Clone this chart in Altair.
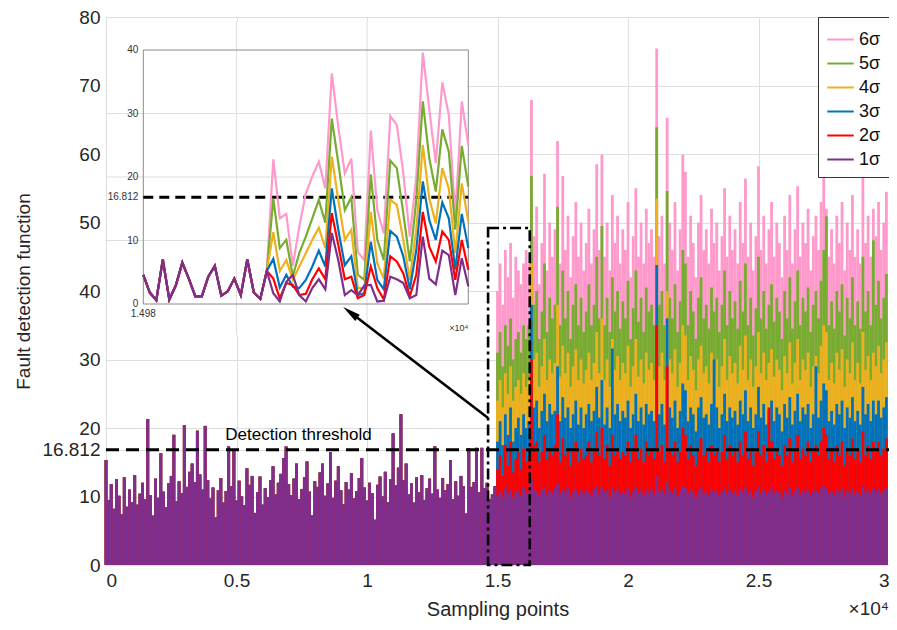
import altair as alt
import pandas as pd

FONT = "Liberation Sans"
SERIES = ["6σ", "5σ", "4σ", "3σ", "2σ", "1σ"]
COLORS = ["#FF99CC", "#77AC30", "#EDB120", "#0072BD", "#FF0000", "#7E2F8E"]

# ---------------- main chart data (one value per 100 samples) ----------------
STEP = 100
FAULT_START = 15000
THRESHOLD = 16.812

# before the fault all six series are identical
pre_fault = [
    15.3, 9.5, 11.8, 8.2, 12.5, 10.1, 7.4, 12.8, 8.5, 11.0,
    9.2, 13.1, 8.8, 10.4, 12.0, 9.6, 21.3, 10.2, 7.2, 12.6,
    9.8, 16.3, 10.7, 8.4, 11.9, 13.0, 19.0, 9.3, 12.2, 10.5,
    20.4, 11.4, 13.6, 14.8, 12.1, 19.6, 13.2, 11.0, 20.3, 12.4,
    9.7, 11.3, 7.0, 10.9, 12.7, 9.1, 10.8, 17.3, 11.5, 16.8,
    9.4, 12.3, 10.0, 8.7, 14.1, 11.7, 13.0, 7.6, 10.6, 12.9,
    8.8, 11.2, 9.9, 12.4, 14.4, 10.3, 12.0, 13.3, 15.6, 17.3,
    11.8, 10.2, 12.6, 14.8, 9.6, 11.1, 12.8, 15.1, 10.7, 7.3,
    12.2, 11.4, 13.5, 14.8, 10.1, 11.9, 16.5, 9.8, 12.3, 14.4,
    10.9, 8.9, 12.1, 11.0, 13.4, 9.7, 10.8, 12.7, 15.6, 11.3,
    9.4, 12.0, 10.5, 6.6, 11.7, 12.9, 10.0, 13.6, 9.2, 12.5,
    19.2, 11.6, 14.2, 22.0, 12.4, 14.8, 10.3, 11.9, 9.1, 12.8,
    10.6, 13.1, 9.5, 11.2, 12.6, 10.4, 17.3, 11.0, 9.8, 12.7,
    10.9, 11.8, 15.3, 9.6, 12.2, 10.1, 13.0, 11.5, 7.5, 17.0,
    11.4, 12.1, 17.1, 10.6, 17.1, 11.2, 12.0, 9.6, 10.3, 11.5,
]

post_6s = [
    40, 44, 38, 46, 42, 47, 39, 45, 43, 41,
    44, 46, 44, 67.9, 48, 52.3, 41, 47, 57.1, 43,
    50, 45, 49, 61.9, 44, 56.8, 46, 51, 42, 48,
    53, 45, 50, 43, 47, 52, 44, 49, 58.5, 46,
    59.9, 45, 50, 43, 54, 47, 51, 44, 49, 46,
    53, 42, 48, 55, 45, 50, 44, 52, 47, 49,
    45, 75.4, 48, 51, 44, 65.3, 50, 46, 53, 43,
    49, 59.9, 57.4, 45, 51, 47, 42, 50, 54, 46,
    49, 44, 52, 47, 50, 43, 48, 55, 45, 51,
    46, 49, 44, 53, 47, 56.4, 45, 50, 43, 48,
    58.2, 46, 51, 44, 49, 53, 45, 50, 47, 42,
    51, 46, 54, 44, 49, 55.3, 45, 50, 47, 52,
    43, 48, 51, 46, 53, 58.6, 52, 45, 49, 44,
    51, 47, 53, 43, 50, 46, 54, 45, 49, 44,
    57.7, 47, 51, 45, 52, 48, 53, 46, 50, 54.5,
]
post_5s = [
    31, 34, 29, 35, 32, 36, 30, 33, 34, 31,
    35, 33, 35, 56.8, 38, 40, 33, 37, 44, 34,
    39, 36, 38, 52.3, 35, 43, 36, 40, 33, 38,
    41, 35, 39, 34, 37, 41, 35, 38, 45, 36,
    49.5, 35, 39, 34, 42, 37, 40, 34.5, 38.5, 36,
    41.5, 33, 37.5, 43, 35.5, 39, 34, 40.5, 37, 38,
    35, 63.9, 38, 40, 35, 54.6, 39, 36, 41, 34,
    38.5, 46, 44, 35, 40, 37, 33, 39, 42, 36,
    38, 34.5, 40.5, 37, 39, 34, 38, 43, 35, 40,
    36, 38.5, 34.5, 41.5, 37, 44, 35, 39, 33.5, 37.5,
    45, 36, 40, 34.5, 38, 41, 35.5, 39, 37, 33,
    40, 36, 42, 34.5, 38.5, 43, 35, 39, 37, 40.5,
    34, 38, 40, 36, 41.5, 46, 50.9, 35, 38.5, 34.5,
    40, 37, 41, 33.5, 39, 36, 42, 35, 38.5, 34.5,
    45, 37, 40, 35, 47.4, 38, 41.5, 36, 39, 42.5,
]
post_4s = [
    24, 27, 23, 28, 25, 29, 24, 26, 27, 25,
    28, 26, 27, 44, 30, 31, 26, 29, 33, 27,
    30, 28, 29.5, 38, 27.5, 32, 28, 31, 26, 29,
    31.5, 27, 30, 26.5, 28.5, 31, 27, 29.5, 34, 28,
    36, 27, 30, 26, 33, 28.5, 30.5, 27, 29.5, 28,
    32, 26, 29, 33, 27.5, 30, 26.5, 31, 28.5, 29.5,
    27, 53.5, 29, 31, 27, 40, 30, 28, 31.5, 26,
    29.5, 35, 33.5, 27, 30.5, 28.5, 25.5, 30, 32, 28,
    29, 26.5, 31, 28.5, 30, 26, 29, 33, 27, 30.5,
    28, 29.5, 26.5, 32, 28.5, 33.5, 27, 30, 26, 29,
    34, 28, 31, 27, 29.5, 31.5, 27.5, 30, 28.5, 25.5,
    30.5, 28, 32.5, 26.5, 29.5, 33, 27, 30, 28.5, 31,
    26, 29, 30.5, 28, 32, 35, 34, 27, 29.5, 26.5,
    31, 28.5, 31.5, 26, 30, 28, 32.5, 27, 29.5, 26.5,
    34, 28.5, 30.5, 27, 31, 29, 32, 28, 30, 32.5,
]
post_3s = [
    18, 21, 17.5, 22, 19, 23, 18, 20, 21.5, 19,
    22, 20, 21, 38, 23, 24, 20, 22.5, 25, 21,
    23.5, 22, 22.5, 29, 21, 24.5, 21.5, 23, 20, 22,
    24, 20.5, 23, 20, 22, 23.5, 21, 22.5, 26, 21.5,
    27, 20.5, 23, 20, 31.6, 22, 23.5, 21, 22.5, 21.5,
    24, 20, 22, 25, 21, 23, 20.5, 23.5, 22, 22.5,
    21, 43.8, 22, 23.5, 20.5, 36, 23, 21.5, 24, 20,
    22.5, 26.5, 25.5, 21, 23, 22, 19.5, 23, 24.5, 21.5,
    22, 20.5, 23.5, 30, 23, 20, 22, 25, 21, 23,
    21.5, 22.5, 20.5, 24, 22, 25.5, 21, 23, 20, 22,
    26, 21.5, 23.5, 20.5, 22.5, 24, 21, 23, 22, 19.5,
    23.5, 21.5, 24.5, 20.5, 22.5, 25, 21, 23, 22, 23.5,
    20, 22, 29, 21.5, 24, 26.5, 25.5, 21, 22.5, 20.5,
    23.5, 22, 24, 20, 23, 21.5, 24.5, 21, 22.5, 20.5,
    26, 22, 23.5, 21, 24, 22, 24, 21.5, 23, 24.5,
]
post_2s = [
    14, 16, 13, 17.5, 14.5, 18, 13.5, 15.5, 16.5, 14,
    17, 15, 16, 30, 17.5, 18, 15, 16.5, 19, 15.5,
    17, 16, 17.5, 22, 15, 18.5, 16, 17, 14.5, 16.5,
    18, 15, 17, 15.5, 16, 18, 15, 17, 19.5, 16,
    20, 15.5, 17.5, 14.5, 19, 16, 17, 15.5, 16.5, 16,
    18, 15, 16.5, 19, 15.5, 17, 15, 18, 16, 17,
    15.5, 35, 16.5, 17.5, 15, 29, 17, 16, 18, 15,
    16.5, 20, 19, 15.5, 17.5, 16, 14.5, 17, 18.5, 16,
    16.5, 15, 17.5, 16, 17, 15, 16.5, 19, 15.5, 17.5,
    16, 17, 15, 18, 16, 19.5, 15.5, 17, 14.5, 16.5,
    19.5, 16, 17.5, 15, 23, 18, 15.5, 17, 16, 14.5,
    17.5, 16, 18.5, 15, 17, 19, 15.5, 17, 16, 18,
    15, 16.5, 17.5, 16, 18, 20, 19, 15.5, 17, 15,
    17.5, 16, 18, 14.5, 17, 16, 18.5, 15.5, 17, 15,
    19.5, 16, 17.5, 15.5, 18, 16.5, 18, 16, 17, 18.5,
]
post_1s = [
    10.2, 10.8, 9.8, 11.2, 10.4, 11.0, 9.9, 10.6, 10.9, 10.1,
    11.3, 10.5, 10.6, 12.5, 11.0, 10.8, 10.2, 11.1, 11.4, 10.3,
    10.9, 10.5, 11.2, 11.8, 10.4, 11.0, 10.7, 11.3, 9.9, 10.8,
    11.1, 10.2, 10.9, 10.5, 11.0, 10.6, 10.1, 11.2, 11.5, 10.4,
    11.3, 10.7, 10.9, 10.0, 11.4, 10.6, 11.0, 10.3, 10.8, 10.5,
    11.2, 9.9, 10.7, 11.3, 10.4, 11.0, 10.2, 10.9, 10.6, 11.1,
    10.3, 13.0, 10.8, 11.0, 10.4, 12.2, 10.9, 10.5, 11.2, 10.1,
    10.7, 11.6, 11.3, 10.4, 11.0, 10.6, 9.8, 10.9, 11.3, 10.5,
    10.8, 10.2, 11.1, 10.6, 10.9, 10.1, 10.7, 11.4, 10.4, 11.0,
    10.5, 10.8, 10.2, 11.2, 10.6, 11.4, 10.3, 10.9, 9.9, 10.7,
    11.5, 10.5, 11.1, 10.3, 10.8, 11.2, 10.4, 10.9, 10.6, 9.8,
    11.0, 10.5, 11.3, 10.2, 10.8, 11.4, 10.3, 10.9, 10.6, 11.1,
    10.1, 10.7, 11.0, 10.5, 11.2, 11.5, 11.3, 10.4, 10.8, 10.2,
    11.0, 10.6, 11.2, 10.0, 10.9, 10.5, 11.3, 10.3, 10.8, 10.2,
    11.5, 10.6, 11.0, 10.4, 11.2, 10.7, 11.2, 10.5, 10.9, 11.3,
]
POST = [post_6s, post_5s, post_4s, post_3s, post_2s, post_1s]

# ---------------- inset data (samples 14980 .. 15030) ----------------
INSET_X0 = 14980
INSET_X1 = 15030
inset_shared = [4.6, 1.8, 0.6, 7.0, 0.7, 2.9, 6.5, 4.0, 1.2, 1.2,
                4.3, 6.0, 1.3, 2.0, 4.0, 1.4, 7.0, 1.8, 0.8, 5.2]
inset_6s = [22.8, 13.5, 14.2, 6.0, 12.2, 17.4, 20.1, 22.4, 18.2, 36.3, 27.9,
            20.6, 22.9, 8.2, 6.9, 27.3, 14.8, 11.1, 29.6, 28.2, 20.6,
            10.6, 20.1, 39.6, 30.6, 22.2, 34.9, 29.8, 13.8, 31.9, 25.0]
inset_5s = [16.6, 8.8, 10.1, 4.4, 8.0, 10.6, 13.5, 16.4, 12.8, 29.2, 22.2,
            14.8, 16.8, 4.6, 3.8, 20.4, 10.1, 6.9, 22.6, 21.4, 14.3,
            6.7, 16.4, 31.9, 22.9, 17.7, 27.5, 24.0, 11.7, 24.9, 18.5]
inset_4s = [11.3, 5.2, 6.9, 3.8, 5.9, 8.0, 10.1, 12.0, 8.8, 23.2, 16.4,
            10.1, 11.7, 2.5, 2.5, 14.5, 6.4, 4.0, 16.4, 15.6, 10.1,
            3.8, 11.9, 25.0, 16.6, 12.7, 21.4, 18.2, 8.0, 19.0, 13.0]
inset_3s = [7.1, 2.6, 4.6, 2.7, 2.5, 3.8, 5.9, 8.4, 5.9, 18.2, 11.7,
            6.1, 7.5, 1.4, 1.7, 9.8, 3.8, 2.3, 11.5, 10.6, 7.5,
            2.3, 8.5, 19.3, 13.2, 10.1, 16.0, 13.5, 5.4, 14.2, 8.8]
inset_2s = [4.0, 0.9, 3.3, 3.0, 1.4, 1.6, 3.9, 5.6, 3.9, 14.3, 9.3,
            3.9, 4.3, 0.9, 1.4, 5.9, 2.5, 0.7, 7.5, 6.7, 4.8,
            1.2, 4.6, 14.5, 9.0, 6.7, 11.4, 10.1, 3.8, 10.1, 5.4]
inset_1s = [1.7, 0.4, 3.5, 4.6, 1.4, 0.4, 2.5, 3.9, 2.3, 11.2, 6.9,
            1.4, 2.2, 1.4, 2.9, 3.0, 0.4, 0.5, 4.3, 3.9, 3.3,
            0.9, 1.4, 10.6, 4.0, 3.1, 8.4, 7.7, 1.4, 7.2, 2.8]
INSET = [inset_6s, inset_5s, inset_4s, inset_3s, inset_2s, inset_1s]
inset_yticks = [0, 10, 20, 30, 40]
inset_grid = [10, 20, 30]

main_xticks = [0, 5000, 10000, 15000, 20000, 25000, 30000]
main_yticks = [0, 10, THRESHOLD, 20, 30, 40, 50, 60, 70, 80]

# ---------------- build tables ----------------
rows = []
for name, post in zip(SERIES, POST):
    for j, v in enumerate(pre_fault):
        rows.append({"x": j * STEP, "v": v, "s": name, "z": 0})
    for j, v in enumerate(post):
        rows.append({"x": FAULT_START + j * STEP, "v": v, "s": name, "z": 0})
main_df = pd.DataFrame(rows)

W, H = 783, 548
xs = alt.Scale(domain=[0, 30000], nice=False, zero=False)
ys = alt.Scale(domain=[0, 80], nice=False, zero=False)

axis_common = dict(labelFont=FONT, titleFont=FONT, labelColor="#262626",
                   titleColor="#262626", labelFontSize=19,
                   titleFontWeight="normal", ticks=False, domain=False,
                   gridColor="#dedede")

rules = alt.Chart(main_df).mark_rule(strokeWidth=2.8).encode(
    x=alt.X("x:Q", scale=xs, title="Sampling points",
            axis=alt.Axis(values=main_xticks, labelExpr="datum.value / 10000",
                          labelPadding=6, titlePadding=9, titleFontSize=20, **axis_common)),
    y=alt.Y("v:Q", scale=ys, title="Fault detection function",
            axis=alt.Axis(values=main_yticks,
                          labelExpr="datum.value === 16.812 ? '16.812' : format(datum.value, 'd')",
                          labelPadding=6, titlePadding=8, titleFontSize=19, **axis_common)),
    y2="z:Q",
    color=alt.Color("s:N", scale=alt.Scale(domain=SERIES, range=COLORS),
                    legend=alt.Legend(title=None, orient="top-right", offset=0,
                                      padding=8, strokeColor="#333333",
                                      fillColor="white", symbolType="stroke",
                                      symbolSize=700, symbolStrokeWidth=2,
                                      labelFontSize=18, labelFont=FONT,
                                      labelColor="#111111", rowPadding=0,
                                      labelOffset=4)),
)

thr = alt.Chart(pd.DataFrame({"x": [0], "x2": [30000], "y": [THRESHOLD]})).mark_rule(
    color="black", strokeWidth=3, strokeDash=[13, 7]).encode(
    x=alt.X("x:Q", scale=xs), x2="x2:Q", y=alt.Y("y:Q", scale=ys))

zoom_box = alt.Chart(pd.DataFrame({"x": [14639], "x2": [16236], "y": [0], "y2": [49.2]})).mark_rect(
    fill="white", fillOpacity=0, stroke="black", strokeWidth=2.6, strokeDash=[11, 4, 3, 4]).encode(
    x=alt.X("x:Q", scale=xs), x2="x2:Q", y=alt.Y("y:Q", scale=ys), y2="y2:Q")

arrow_shaft = alt.Chart(pd.DataFrame({"x": [14639], "x2": [9392], "y": [21.46], "y2": [36.8]})).mark_rule(
    color="black", strokeWidth=2.6).encode(
    x=alt.X("x:Q", scale=xs), x2="x2:Q", y=alt.Y("y:Q", scale=ys), y2="y2:Q")

arrow_head = alt.Chart(pd.DataFrame({"x": [9361], "y": [36.87]})).mark_point(
    shape="M0,-1L0.42,1L-0.42,1Z", filled=True, size=324, angle=307.2,
    color="black", opacity=1).encode(
    x=alt.X("x:Q", scale=xs), y=alt.Y("y:Q", scale=ys))

thr_text = alt.Chart(pd.DataFrame({"x": [7376], "y": [19.0], "t": ["Detection threshold"]})).mark_text(
    font=FONT, fontSize=17, color="black", baseline="middle").encode(
    x=alt.X("x:Q", scale=xs), y=alt.Y("y:Q", scale=ys), text="t:N")

exp_text = alt.Chart(pd.DataFrame({"x": [30000], "y": [-6.4], "t": ["×10⁴"]})).mark_text(
    font=FONT, fontSize=19, color="#262626", align="right", baseline="middle").encode(
    x=alt.X("x:Q", scale=xs), y=alt.Y("y:Q", scale=ys), text="t:N")

# white backdrop of the pasted inset picture, and the main vertical grid showing through
inset_bg = alt.Chart(pd.DataFrame({"x": [40], "x2": [13840], "y": [33.6], "y2": [79.3]})).mark_rect(
    fill="white").encode(x=alt.X("x:Q", scale=xs), x2="x2:Q", y=alt.Y("y:Q", scale=ys), y2="y2:Q")
vgrid = alt.Chart(pd.DataFrame({"x": [5000, 10000], "y": [33.6, 33.6], "y2": [79.3, 79.3]})).mark_rule(
    color="#dedede", strokeWidth=1).encode(x=alt.X("x:Q", scale=xs), y=alt.Y("y:Q", scale=ys), y2="y2:Q")

main_layer = alt.layer(rules, thr, zoom_box, inset_bg, vgrid, arrow_shaft, arrow_head, thr_text, exp_text)

# ---------------- inset ----------------
xi = alt.Scale(domain=[INSET_X0, INSET_X1], range=[37.3, 362.3], nice=False, zero=False)
yi = alt.Scale(domain=[0, 40], range=[287, 33], nice=False, zero=False)

hg = alt.Chart(pd.DataFrame({"y": inset_grid, "x": [14974.3] * 3, "x2": [INSET_X1] * 3})).mark_rule(
    color="#dedede", strokeWidth=1).encode(
    x=alt.X("x:Q", scale=xi, axis=None), x2="x2:Q", y=alt.Y("y:Q", scale=yi, axis=None))

frame = alt.Chart(pd.DataFrame({"x": [INSET_X0], "x2": [INSET_X1], "y": [0], "y2": [40]})).mark_rect(
    fill="white", fillOpacity=0, stroke="#8a8a8a", strokeWidth=1).encode(
    x=alt.X("x:Q", scale=xi, axis=None), x2="x2:Q", y=alt.Y("y:Q", scale=yi, axis=None), y2="y2:Q")

ithr = alt.Chart(pd.DataFrame({"x": [INSET_X0], "x2": [INSET_X1], "y": [THRESHOLD]})).mark_rule(
    color="black", strokeWidth=3, strokeDash=[10, 6]).encode(
    x=alt.X("x:Q", scale=xi, axis=None), x2="x2:Q", y=alt.Y("y:Q", scale=yi, axis=None))

inset_lines = []
for name, col, tail in zip(SERIES, COLORS, INSET):
    vals = inset_shared + tail
    d = pd.DataFrame({"x": [INSET_X0 + i for i in range(len(vals))], "v": vals})
    inset_lines.append(alt.Chart(d).mark_line(color=col, strokeWidth=2.2).encode(
        x=alt.X("x:Q", scale=xi, axis=None), y=alt.Y("v:Q", scale=yi, axis=None)))

ylab_vals = inset_yticks + [THRESHOLD]
ylab = alt.Chart(pd.DataFrame({"y": ylab_vals, "x": [INSET_X0] * len(ylab_vals),
                               "t": [str(v) for v in inset_yticks] + ["16.812"]})).mark_text(
    font=FONT, fontSize=10, color="#333333", align="right", baseline="middle", dx=-5).encode(
    x=alt.X("x:Q", scale=xi, axis=None), y=alt.Y("y:Q", scale=yi, axis=None), text="t:N")

xlab = alt.Chart(pd.DataFrame({"x": [INSET_X0], "y": [0], "t": ["1.498"]})).mark_text(
    font=FONT, fontSize=10, color="#333333", align="center", baseline="top", dy=5).encode(
    x=alt.X("x:Q", scale=xi, axis=None), y=alt.Y("y:Q", scale=yi, axis=None), text="t:N")

xexp = alt.Chart(pd.DataFrame({"x": [INSET_X1], "y": [0], "t": ["×10⁴"]})).mark_text(
    font=FONT, fontSize=9, color="#333333", align="right", baseline="top", dy=20).encode(
    x=alt.X("x:Q", scale=xi, axis=None), y=alt.Y("y:Q", scale=yi, axis=None), text="t:N")

inset_layer = alt.layer(hg, frame, ithr, *inset_lines, ylab, xlab, xexp)

chart = alt.layer(main_layer, inset_layer).resolve_scale(
    x="independent", y="independent"
).properties(
    width=W, height=H,
    padding={"left": 98, "top": 9, "right": 0, "bottom": 57},
    autosize=alt.AutoSizeParams(type="none"),
).configure_view(stroke="#8a8a8a", strokeWidth=1)

chart.save("out.html", embed_options={"renderer": "svg", "actions": False})
